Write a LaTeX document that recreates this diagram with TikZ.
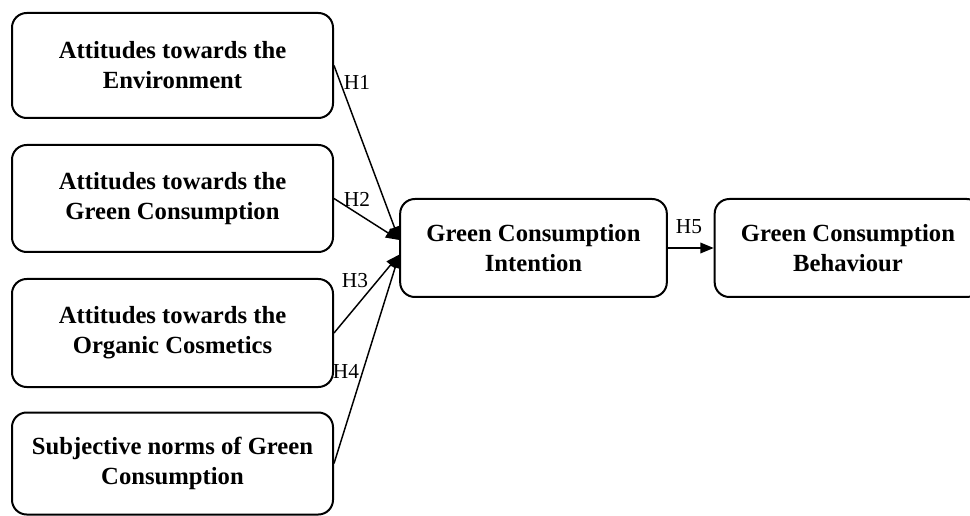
\documentclass[tikz,border=0pt]{standalone}
\usepackage{fontspec}
\setmainfont{Liberation Serif}
\usetikzlibrary{
    arrows.meta
}

\begin{document}
\begin{tikzpicture}[
    x=0.75pt,
    y=-0.75pt,
    >={Triangle[length=10pt,width=8pt]},
    factor/.style = {
        draw,
        rectangle,
        rounded corners=11pt,
        line width=1.5pt,
        align=center,
        inner sep=0pt,
        font=\fontsize{18.5}{22.5}\selectfont\bfseries,
        minimum width=240.75pt
    },
    outcome/.style = {
        factor,
        minimum width=200pt,
        minimum height=73.5pt
    },
    hyp/.style = {
        font=\fontsize{16}{19}\selectfont,
        inner sep=0pt
    },
    link/.style = {
        ->,
        line width=1.1pt
    },
]
    \useasboundingbox (0,0) rectangle (970,516);

    % Antecedents
    \node [factor, minimum height=78.75pt] (att_env) at (172.5,65.5)
        {Attitudes towards the\\ Environment};
    \node [factor, minimum height=80.25pt] (att_green) at (172.5,198.5)
        {Attitudes towards the\\ Green Consumption};
    \node [factor, minimum height=81pt] (att_organic) at (172.5,333)
        {Attitudes towards the\\ Organic Cosmetics};
    \node [factor, minimum height=76.5pt] (subj_norms) at (172.5,463.5)
        {Subjective norms of Green\\ Consumption};

    % Intention and behaviour
    \node [outcome] (intention) at (533.5,248)
        {Green Consumption\\ Intention};
    \node [outcome] (behaviour) at (848,248)
        {Green Consumption\\ Behaviour};

    \coordinate (in_upper) at ([yshift=6pt]intention.west);
    \coordinate (in_lower) at ([yshift=-5pt]intention.west);

    \draw [link] (att_env.east) -- (in_upper);
    \draw [link] (att_green.east) -- (in_upper);
    \draw [link] (att_organic.east) -- (in_lower);
    \draw [link] (subj_norms.east) -- (in_lower);
    \draw [link] (intention) -- (behaviour);

    \node [hyp] (h1) at (357,82) {H1};
    \node [hyp] (h2) at (357,199) {H2};
    \node [hyp] (h3) at (355,281) {H3};
    \node [hyp] (h4) at (346,371) {H4};
    \node [hyp] (h5) at (689,227) {H5};
\end{tikzpicture}
\end{document}
